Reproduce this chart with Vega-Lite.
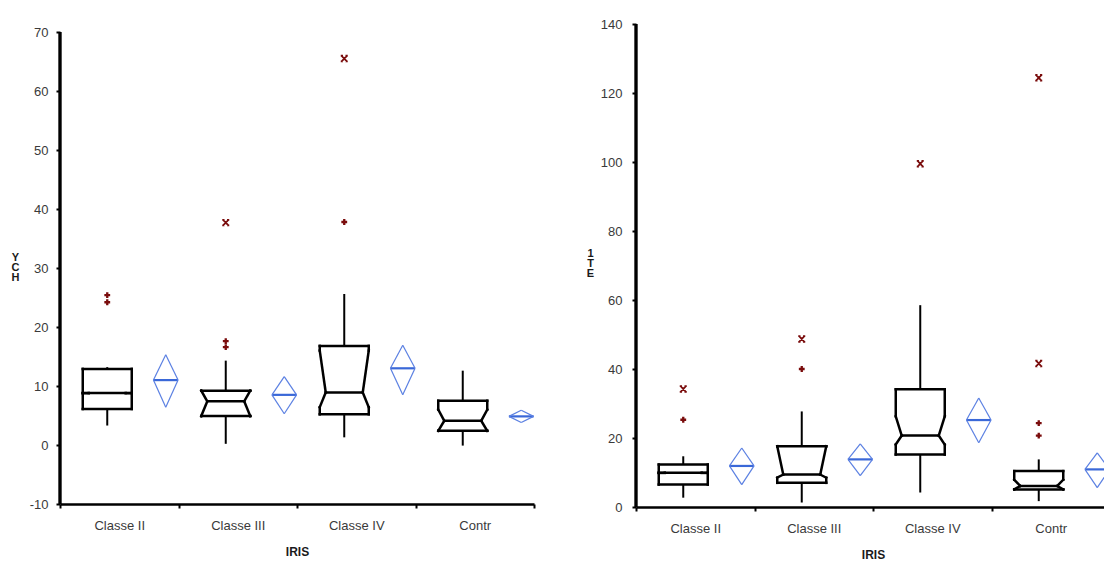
{
  "$schema": "https://vega.github.io/schema/vega-lite/v6.json",
  "background": "white",
  "padding": {"left": 11, "top": 18, "right": 0, "bottom": 0},
  "spacing": 51,
  "config": {
    "font": "Liberation Sans",
    "view": {"stroke": null},
    "axis": {
      "grid": false,
      "domainColor": "#000",
      "domainWidth": 2.5,
      "tickColor": "#000",
      "tickWidth": 2,
      "tickSize": 4,
      "labelFont": "Liberation Sans",
      "labelFontSize": 13,
      "labelColor": "#3a3a3a",
      "titleFont": "Liberation Sans",
      "titleColor": "#1a1a1a"
    },
    "axisX": {"tickBand": "extent", "labelAngle": 0, "labelPadding": 11, "titlePadding": 14, "titleFontSize": 12, "titleFontWeight": "bold"},
    "axisY": {"titleAngle": 0, "titleAlign": "center", "titleBaseline": "top", "titleFontSize": 11, "titleFontWeight": "bold", "titleLineHeight": 10, "labelExpr": "'' + datum.value"},
    "style": {
      "axisline": {"color": "#000", "stroke": "#000", "strokeWidth": 2.5},
      "box": {"color": "#000", "stroke": "#000", "strokeWidth": 2.5, "strokeCap": "square"},
      "whisker": {"color": "#000", "stroke": "#000", "strokeWidth": 2},
      "dia": {"color": "#5b80e2", "stroke": "#5b80e2", "strokeWidth": 1.2},
      "meanline": {"color": "#3a68d8", "stroke": "#3a68d8", "strokeWidth": 2.2}
    }
  },
  "datasets": {
    "boxL": [
      {"group": "Classe II", "lo": 3.3, "q1": 6.1, "nlo": 8.8, "med": 8.8, "nhi": 8.8, "q3": 12.9, "hi": 13.2, "mean": 11.0, "cilo": 6.4, "cihi": 15.3},
      {"group": "Classe III", "lo": 0.2, "q1": 4.9, "nlo": 4.9, "med": 7.4, "nhi": 9.2, "q3": 9.2, "hi": 14.3, "mean": 8.5, "cilo": 5.3, "cihi": 11.6},
      {"group": "Classe IV", "lo": 1.3, "q1": 5.2, "nlo": 6.4, "med": 8.9, "nhi": 16.0, "q3": 16.8, "hi": 25.6, "mean": 13.0, "cilo": 8.5, "cihi": 16.9},
      {"group": "Contr", "lo": -0.1, "q1": 2.4, "nlo": 2.4, "med": 4.1, "nhi": 6.0, "q3": 7.5, "hi": 12.6, "mean": 4.85, "cilo": 3.8, "cihi": 5.9}
    ],
    "outL": [
      {"group": "Classe II", "value": 24.2, "kind": "mild"},
      {"group": "Classe II", "value": 25.4, "kind": "mild"},
      {"group": "Classe III", "value": 16.6, "kind": "mild"},
      {"group": "Classe III", "value": 17.6, "kind": "mild"},
      {"group": "Classe III", "value": 37.7, "kind": "extreme"},
      {"group": "Classe IV", "value": 37.8, "kind": "mild"},
      {"group": "Classe IV", "value": 65.5, "kind": "extreme"}
    ],
    "boxR": [
      {"group": "Classe II", "lo": 2.7, "q1": 6.5, "nlo": 9.9, "med": 9.9, "nhi": 9.9, "q3": 12.3, "hi": 14.7, "mean": 11.9, "cilo": 6.5, "cihi": 17.1},
      {"group": "Classe III", "lo": 1.3, "q1": 7.0, "nlo": 8.5, "med": 9.4, "nhi": 17.6, "q3": 17.6, "hi": 27.7, "mean": 13.8, "cilo": 9.1, "cihi": 18.3},
      {"group": "Classe IV", "lo": 4.2, "q1": 15.2, "nlo": 18.1, "med": 20.7, "nhi": 26.3, "q3": 34.1, "hi": 58.5, "mean": 25.2, "cilo": 18.6, "cihi": 31.6},
      {"group": "Contr", "lo": 1.7, "q1": 5.1, "nlo": 5.1, "med": 6.1, "nhi": 7.9, "q3": 10.4, "hi": 13.8, "mean": 10.9, "cilo": 5.6, "cihi": 15.7}
    ],
    "outR": [
      {"group": "Classe II", "value": 25.3, "kind": "mild"},
      {"group": "Classe II", "value": 34.2, "kind": "extreme"},
      {"group": "Classe III", "value": 40.0, "kind": "mild"},
      {"group": "Classe III", "value": 48.7, "kind": "extreme"},
      {"group": "Classe IV", "value": 99.5, "kind": "extreme"},
      {"group": "Contr", "value": 20.7, "kind": "mild"},
      {"group": "Contr", "value": 24.3, "kind": "mild"},
      {"group": "Contr", "value": 41.6, "kind": "extreme"},
      {"group": "Contr", "value": 124.4, "kind": "extreme"}
    ]
  },
  "hconcat": [
    {
      "width": 474,
      "height": 480,
      "data": {"name": "boxL"},
      "layer": [
        {"mark": {"type": "rule", "style": "axisline"},
         "encoding": {
           "x": {"datum": "Classe II", "type": "nominal", "bandPosition": 0,
                 "scale": {"type": "band", "domain": ["Classe II", "Classe III", "Classe IV", "Contr"], "paddingInner": 0, "paddingOuter": 0},
                 "axis": {"title": "IRIS"}},
           "y": {"datum": -10, "type": "quantitative",
                 "scale": {"domain": [-10, 71.36], "nice": false, "zero": false},
                 "axis": {"values": [-10, 0, 10, 20, 30, 40, 50, 60, 70], "domain": false, "title": ["Y", "C", "H"], "titleX": -45, "titleY": 227, "labelPadding": 8}},
           "y2": {"datum": 70}}},
        {"mark": {"type": "rule", "style": "box", "xOffset": -36.5, "x2Offset": 12.5},
         "encoding": {"x": {"field": "group", "type": "nominal"}, "x2": {"field": "group"}, "y": {"field": "q3", "type": "quantitative"}}},
        {"mark": {"type": "rule", "style": "box", "xOffset": -36.5, "x2Offset": 12.5},
         "encoding": {"x": {"field": "group", "type": "nominal"}, "x2": {"field": "group"}, "y": {"field": "q1", "type": "quantitative"}}},
        {"mark": {"type": "rule", "style": "box", "xOffset": -30.5, "x2Offset": 6.5},
         "encoding": {"x": {"field": "group", "type": "nominal"}, "x2": {"field": "group"}, "y": {"field": "med", "type": "quantitative"}}},
        {"mark": {"type": "rule", "style": "box", "xOffset": -36.5},
         "encoding": {"x": {"field": "group", "type": "nominal"}, "y": {"field": "q1", "type": "quantitative"}, "y2": {"field": "nlo"}}},
        {"mark": {"type": "rule", "style": "box", "xOffset": 12.5},
         "encoding": {"x": {"field": "group", "type": "nominal"}, "y": {"field": "q1", "type": "quantitative"}, "y2": {"field": "nlo"}}},
        {"mark": {"type": "rule", "style": "box", "xOffset": -36.5},
         "encoding": {"x": {"field": "group", "type": "nominal"}, "y": {"field": "nhi", "type": "quantitative"}, "y2": {"field": "q3"}}},
        {"mark": {"type": "rule", "style": "box", "xOffset": 12.5},
         "encoding": {"x": {"field": "group", "type": "nominal"}, "y": {"field": "nhi", "type": "quantitative"}, "y2": {"field": "q3"}}},
        {"mark": {"type": "rule", "style": "box", "xOffset": -36.5, "x2Offset": -30.5},
         "encoding": {"x": {"field": "group", "type": "nominal"}, "x2": {"field": "group"}, "y": {"field": "nlo", "type": "quantitative"}, "y2": {"field": "med"}}},
        {"mark": {"type": "rule", "style": "box", "xOffset": 12.5, "x2Offset": 6.5},
         "encoding": {"x": {"field": "group", "type": "nominal"}, "x2": {"field": "group"}, "y": {"field": "nlo", "type": "quantitative"}, "y2": {"field": "med"}}},
        {"mark": {"type": "rule", "style": "box", "xOffset": -36.5, "x2Offset": -30.5},
         "encoding": {"x": {"field": "group", "type": "nominal"}, "x2": {"field": "group"}, "y": {"field": "nhi", "type": "quantitative"}, "y2": {"field": "med"}}},
        {"mark": {"type": "rule", "style": "box", "xOffset": 12.5, "x2Offset": 6.5},
         "encoding": {"x": {"field": "group", "type": "nominal"}, "x2": {"field": "group"}, "y": {"field": "nhi", "type": "quantitative"}, "y2": {"field": "med"}}},
        {"mark": {"type": "rule", "style": "whisker", "xOffset": -12},
         "encoding": {"x": {"field": "group", "type": "nominal"}, "y": {"field": "lo", "type": "quantitative"}, "y2": {"field": "q1"}}},
        {"mark": {"type": "rule", "style": "whisker", "xOffset": -12},
         "encoding": {"x": {"field": "group", "type": "nominal"}, "y": {"field": "q3", "type": "quantitative"}, "y2": {"field": "hi"}}},
        {"mark": {"type": "rule", "style": "meanline", "xOffset": 34.2, "x2Offset": 58.8},
         "encoding": {"x": {"field": "group", "type": "nominal"}, "x2": {"field": "group"}, "y": {"field": "mean", "type": "quantitative"}}},
        {"mark": {"type": "rule", "style": "dia", "xOffset": 34.2, "x2Offset": 46.5},
         "encoding": {"x": {"field": "group", "type": "nominal"}, "x2": {"field": "group"}, "y": {"field": "mean", "type": "quantitative"}, "y2": {"field": "cihi"}}},
        {"mark": {"type": "rule", "style": "dia", "xOffset": 58.8, "x2Offset": 46.5},
         "encoding": {"x": {"field": "group", "type": "nominal"}, "x2": {"field": "group"}, "y": {"field": "mean", "type": "quantitative"}, "y2": {"field": "cihi"}}},
        {"mark": {"type": "rule", "style": "dia", "xOffset": 34.2, "x2Offset": 46.5},
         "encoding": {"x": {"field": "group", "type": "nominal"}, "x2": {"field": "group"}, "y": {"field": "mean", "type": "quantitative"}, "y2": {"field": "cilo"}}},
        {"mark": {"type": "rule", "style": "dia", "xOffset": 58.8, "x2Offset": 46.5},
         "encoding": {"x": {"field": "group", "type": "nominal"}, "x2": {"field": "group"}, "y": {"field": "mean", "type": "quantitative"}, "y2": {"field": "cilo"}}},
        {"data": {"name": "outL"},
         "transform": [{"filter": "datum.kind === 'mild'"}],
         "mark": {"type": "point", "shape": "cross", "filled": true, "color": "#7a0c0c", "size": 34, "opacity": 1, "xOffset": -12},
         "encoding": {"x": {"field": "group", "type": "nominal"}, "y": {"field": "value", "type": "quantitative"}}},
        {"data": {"name": "outL"},
         "transform": [{"filter": "datum.kind === 'extreme'"}],
         "mark": {"type": "point", "shape": "M-0.75,-0.8L0.75,0.8M0.75,-0.8L-0.75,0.8M-1,-0.8H-0.35M0.35,-0.8H1M-1,0.8H-0.35M0.35,0.8H1", "filled": false, "stroke": "#7a0c0c", "strokeWidth": 1.8, "size": 49, "opacity": 1, "xOffset": -12},
         "encoding": {"x": {"field": "group", "type": "nominal"}, "y": {"field": "value", "type": "quantitative"}}}
      ]
    },
    {
      "width": 474,
      "height": 483,
      "data": {"name": "boxR"},
      "layer": [
        {"mark": {"type": "rule", "style": "axisline"},
         "encoding": {
           "x": {"datum": "Classe II", "type": "nominal", "bandPosition": 0,
                 "scale": {"type": "band", "domain": ["Classe II", "Classe III", "Classe IV", "Contr"], "paddingInner": 0, "paddingOuter": 0},
                 "axis": {"title": "IRIS"}},
           "y": {"datum": 0, "type": "quantitative",
                 "scale": {"domain": [0, 140], "nice": false, "zero": false},
                 "axis": {"values": [0, 20, 40, 60, 80, 100, 120, 140], "domain": false, "title": ["1", "T", "E"], "titleX": -46, "titleY": 223, "labelPadding": 10}},
           "y2": {"datum": 140}}},
        {"mark": {"type": "rule", "style": "box", "xOffset": -36.5, "x2Offset": 12.5},
         "encoding": {"x": {"field": "group", "type": "nominal"}, "x2": {"field": "group"}, "y": {"field": "q3", "type": "quantitative"}}},
        {"mark": {"type": "rule", "style": "box", "xOffset": -36.5, "x2Offset": 12.5},
         "encoding": {"x": {"field": "group", "type": "nominal"}, "x2": {"field": "group"}, "y": {"field": "q1", "type": "quantitative"}}},
        {"mark": {"type": "rule", "style": "box", "xOffset": -30.5, "x2Offset": 6.5},
         "encoding": {"x": {"field": "group", "type": "nominal"}, "x2": {"field": "group"}, "y": {"field": "med", "type": "quantitative"}}},
        {"mark": {"type": "rule", "style": "box", "xOffset": -36.5},
         "encoding": {"x": {"field": "group", "type": "nominal"}, "y": {"field": "q1", "type": "quantitative"}, "y2": {"field": "nlo"}}},
        {"mark": {"type": "rule", "style": "box", "xOffset": 12.5},
         "encoding": {"x": {"field": "group", "type": "nominal"}, "y": {"field": "q1", "type": "quantitative"}, "y2": {"field": "nlo"}}},
        {"mark": {"type": "rule", "style": "box", "xOffset": -36.5},
         "encoding": {"x": {"field": "group", "type": "nominal"}, "y": {"field": "nhi", "type": "quantitative"}, "y2": {"field": "q3"}}},
        {"mark": {"type": "rule", "style": "box", "xOffset": 12.5},
         "encoding": {"x": {"field": "group", "type": "nominal"}, "y": {"field": "nhi", "type": "quantitative"}, "y2": {"field": "q3"}}},
        {"mark": {"type": "rule", "style": "box", "xOffset": -36.5, "x2Offset": -30.5},
         "encoding": {"x": {"field": "group", "type": "nominal"}, "x2": {"field": "group"}, "y": {"field": "nlo", "type": "quantitative"}, "y2": {"field": "med"}}},
        {"mark": {"type": "rule", "style": "box", "xOffset": 12.5, "x2Offset": 6.5},
         "encoding": {"x": {"field": "group", "type": "nominal"}, "x2": {"field": "group"}, "y": {"field": "nlo", "type": "quantitative"}, "y2": {"field": "med"}}},
        {"mark": {"type": "rule", "style": "box", "xOffset": -36.5, "x2Offset": -30.5},
         "encoding": {"x": {"field": "group", "type": "nominal"}, "x2": {"field": "group"}, "y": {"field": "nhi", "type": "quantitative"}, "y2": {"field": "med"}}},
        {"mark": {"type": "rule", "style": "box", "xOffset": 12.5, "x2Offset": 6.5},
         "encoding": {"x": {"field": "group", "type": "nominal"}, "x2": {"field": "group"}, "y": {"field": "nhi", "type": "quantitative"}, "y2": {"field": "med"}}},
        {"mark": {"type": "rule", "style": "whisker", "xOffset": -12},
         "encoding": {"x": {"field": "group", "type": "nominal"}, "y": {"field": "lo", "type": "quantitative"}, "y2": {"field": "q1"}}},
        {"mark": {"type": "rule", "style": "whisker", "xOffset": -12},
         "encoding": {"x": {"field": "group", "type": "nominal"}, "y": {"field": "q3", "type": "quantitative"}, "y2": {"field": "hi"}}},
        {"mark": {"type": "rule", "style": "meanline", "xOffset": 34.2, "x2Offset": 58.8},
         "encoding": {"x": {"field": "group", "type": "nominal"}, "x2": {"field": "group"}, "y": {"field": "mean", "type": "quantitative"}}},
        {"mark": {"type": "rule", "style": "dia", "xOffset": 34.2, "x2Offset": 46.5},
         "encoding": {"x": {"field": "group", "type": "nominal"}, "x2": {"field": "group"}, "y": {"field": "mean", "type": "quantitative"}, "y2": {"field": "cihi"}}},
        {"mark": {"type": "rule", "style": "dia", "xOffset": 58.8, "x2Offset": 46.5},
         "encoding": {"x": {"field": "group", "type": "nominal"}, "x2": {"field": "group"}, "y": {"field": "mean", "type": "quantitative"}, "y2": {"field": "cihi"}}},
        {"mark": {"type": "rule", "style": "dia", "xOffset": 34.2, "x2Offset": 46.5},
         "encoding": {"x": {"field": "group", "type": "nominal"}, "x2": {"field": "group"}, "y": {"field": "mean", "type": "quantitative"}, "y2": {"field": "cilo"}}},
        {"mark": {"type": "rule", "style": "dia", "xOffset": 58.8, "x2Offset": 46.5},
         "encoding": {"x": {"field": "group", "type": "nominal"}, "x2": {"field": "group"}, "y": {"field": "mean", "type": "quantitative"}, "y2": {"field": "cilo"}}},
        {"data": {"name": "outR"},
         "transform": [{"filter": "datum.kind === 'mild'"}],
         "mark": {"type": "point", "shape": "cross", "filled": true, "color": "#7a0c0c", "size": 34, "opacity": 1, "xOffset": -12},
         "encoding": {"x": {"field": "group", "type": "nominal"}, "y": {"field": "value", "type": "quantitative"}}},
        {"data": {"name": "outR"},
         "transform": [{"filter": "datum.kind === 'extreme'"}],
         "mark": {"type": "point", "shape": "M-0.75,-0.8L0.75,0.8M0.75,-0.8L-0.75,0.8M-1,-0.8H-0.35M0.35,-0.8H1M-1,0.8H-0.35M0.35,0.8H1", "filled": false, "stroke": "#7a0c0c", "strokeWidth": 1.8, "size": 49, "opacity": 1, "xOffset": -12},
         "encoding": {"x": {"field": "group", "type": "nominal"}, "y": {"field": "value", "type": "quantitative"}}}
      ]
    }
  ]
}
